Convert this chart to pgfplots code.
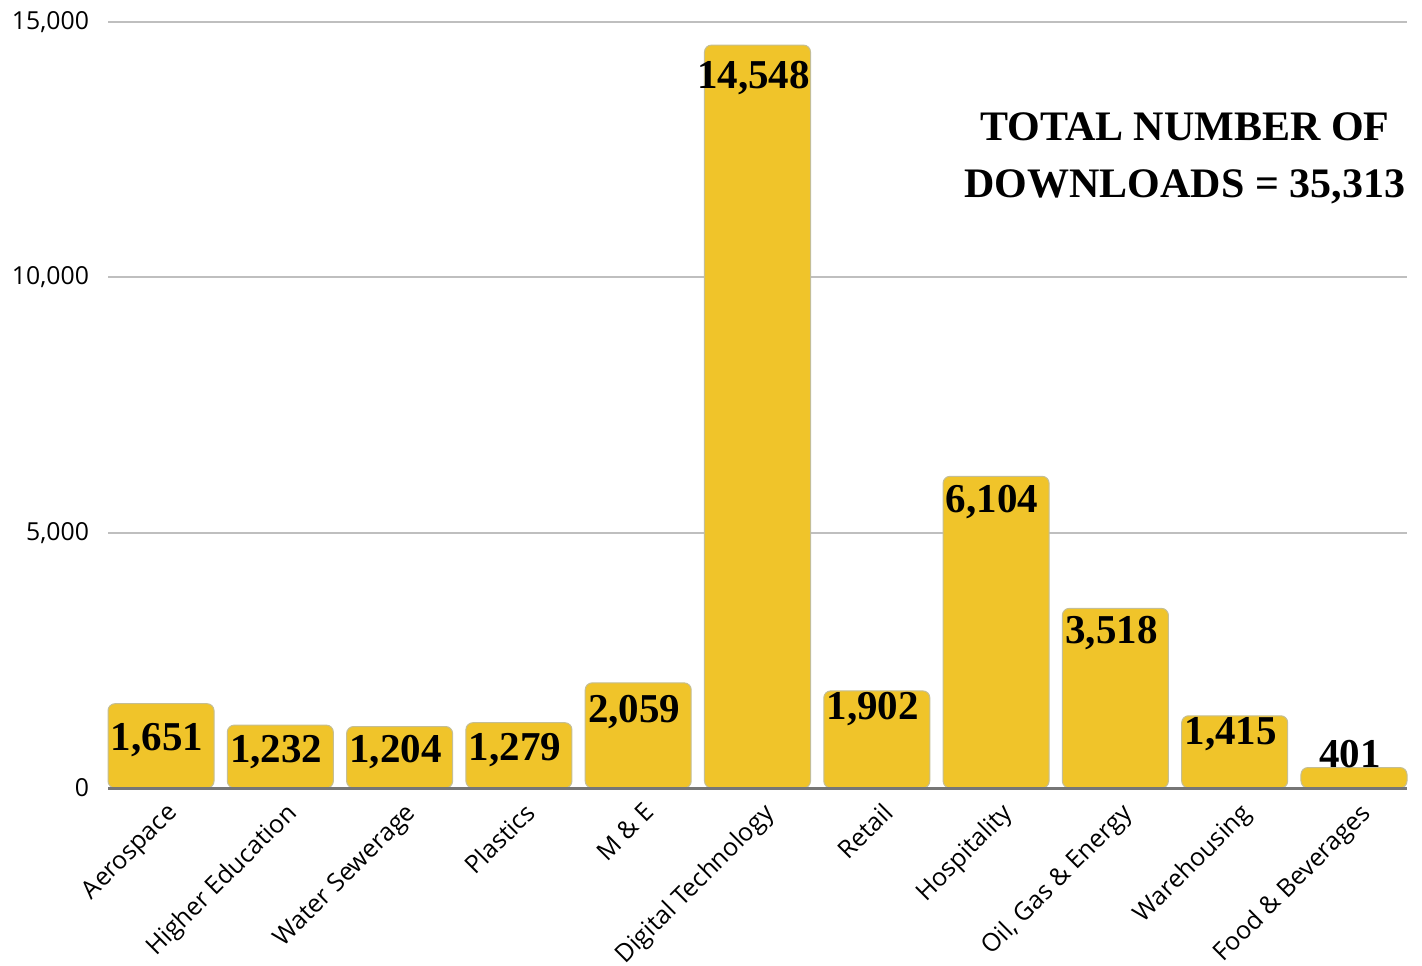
\documentclass[border=0pt]{standalone}
\usepackage{pgfplots}
\usepackage{pgfplotstable}
\pgfplotsset{compat=1.18}
\usepackage{fontspec}
\setmainfont{Open Sans}
\newfontfamily\valfont{Liberation Serif}[BoldFont={Liberation Serif Bold}]
\definecolor{barc}{RGB}{240,196,42}
\definecolor{baredge}{RGB}{196,190,150}
\definecolor{gridc}{RGB}{191,191,191}
\definecolor{basec}{RGB}{118,118,118}

% x: category index, v: downloads, ly: baseline of the value label
\pgfplotstableread{
x v ly
0 1651 740
1 1232 509
2 1204 490
3 1279 529
4 2059 1280
5 14548 13700
6 1902 1340
7 6104 5400
8 3518 2830
9 1415 850
10 401 411
}\downloads

\begin{document}
\begin{tikzpicture}
\useasboundingbox (-54pt,-88.5pt) rectangle (657pt,394pt);
\begin{axis}[
    scale only axis,
    width=649.5pt, height=383pt,
    xmin=-0.4445, xmax=10.4445,
    ymin=0, ymax=15000,
    ytick={0,5000,10000,15000},
    scaled y ticks=false,
    xtick={0,...,10},
    xticklabels={Aerospace, Higher Education, Water Sewerage, Plastics, M \& E,
        Digital Technology, Retail, Hospitality, {Oil, Gas \& Energy},
        Warehousing, Food \& Beverages},
    axis line style={draw=none},
    major tick length=0pt,
    ymajorgrids,
    grid style={line width=1pt, gridc},
    /pgf/number format/1000 sep={,},
    /pgf/number format/assume math mode=true,
    yticklabel style={font=\fontsize{12.4}{14}\selectfont, anchor=east, xshift=-6pt},
    xticklabel style={font=\fontsize{12.5}{14}\selectfont, rotate=45, anchor=north east, inner sep=1pt, yshift=-5pt, xshift=-2pt},
    clip=false,
]
\addplot[ybar, bar width=0.889, fill=barc, draw=baredge, line width=0.5pt, rounded corners=3.5pt]
    table[x=x, y=v] {\downloads};
\addplot[only marks, mark=none, point meta=\thisrow{v},
    nodes near coords,
    nodes near coords style={font=\valfont\bfseries\fontsize{20.5}{22}\selectfont, anchor=base, inner sep=0pt, xshift=-2pt}]
    table[x=x, y=ly] {\downloads};
\draw[basec, line width=1.5pt] (rel axis cs:0,0) -- (rel axis cs:1,0);
\node[align=center, font=\valfont\bfseries\fontsize{21}{28.5}\selectfont]
    at (rel axis cs:0.829,0.822) {TOTAL NUMBER OF\\DOWNLOADS = 35,313};
\end{axis}
\end{tikzpicture}
\end{document}
